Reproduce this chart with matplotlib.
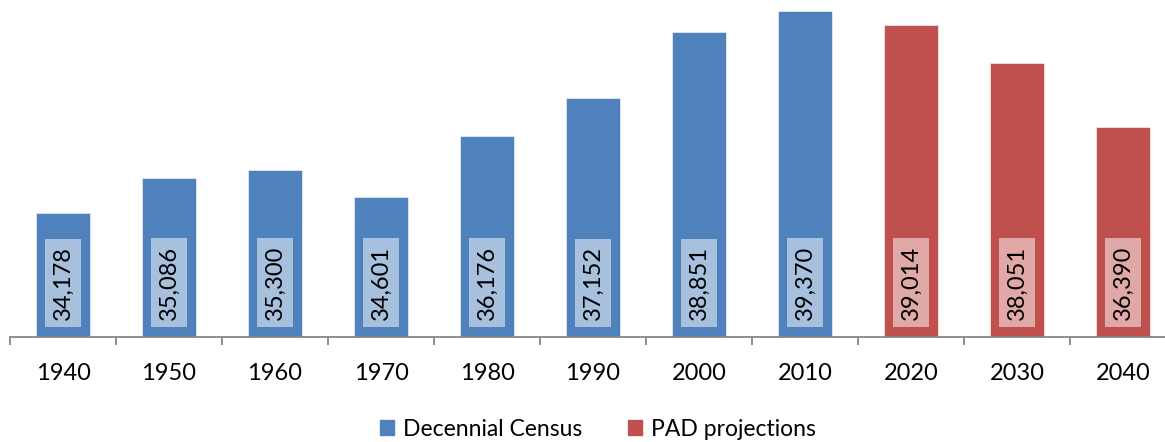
import matplotlib.pyplot as plt
import matplotlib.patches as mpatches

plt.rcParams['font.family'] = ['Lato', 'DejaVu Sans']

years = ['1940', '1950', '1960', '1970', '1980', '1990',
         '2000', '2010', '2020', '2030', '2040']
population = [34178, 35086, 35300, 34601, 36176, 37152,
              38851, 39370, 39014, 38051, 36390]
n_census = 8  # first 8 are census counts, rest are projections

blue = '#4F81BD'
red = '#C0504D'
blue_box = '#A7C0DE'
red_box = '#E0A8A6'

fig = plt.figure(figsize=(11.65, 4.42), dpi=100)
ax = fig.add_axes([10 / 1165, 105 / 442, 1166 / 1165, 337 / 442])

x = list(range(len(years)))
colors = [blue if i < n_census else red for i in x]
ax.bar(x, population, width=0.51, bottom=0, color=colors,
       edgecolor='#ffffff', linewidth=0.4)

for i, v in enumerate(population):
    box_col = blue_box if i < n_census else red_box
    ax.annotate(f'{v:,}', xy=(i, 31000), xytext=(0, 12.5),
                textcoords='offset points', rotation=90,
                ha='center', va='bottom', fontsize=17, color='black',
                bbox=dict(boxstyle='square,pad=0.3', fc=box_col, ec='none'))

ax.set_ylim(31000, 39661)
ax.set_xlim(-0.5, len(years) - 0.5)

for s in ['left', 'top', 'right']:
    ax.spines[s].set_visible(False)
ax.spines['bottom'].set_color('#868686')
ax.spines['bottom'].set_linewidth(1.3)
ax.set_yticks([])

ax.set_xticks(x)
ax.set_xticklabels(years, fontsize=17)
ax.tick_params(axis='x', which='major', length=0, pad=19)
ax.set_xticks([i - 0.5 for i in range(len(years) + 1)], minor=True)
ax.tick_params(axis='x', which='minor', length=6, width=1.3, color='#868686')

handles = [mpatches.Patch(color=blue, label='Decennial Census'),
           mpatches.Patch(color=red, label='PAD projections')]
fig.legend(handles=handles, loc='center', bbox_to_anchor=(598 / 1165, 1 - 429 / 442),
           ncol=2, frameon=False, fontsize=16.5, handlelength=0.6,
           handleheight=0.6, handletextpad=0.4, columnspacing=2.0)

fig.savefig('out.png', dpi=100)
